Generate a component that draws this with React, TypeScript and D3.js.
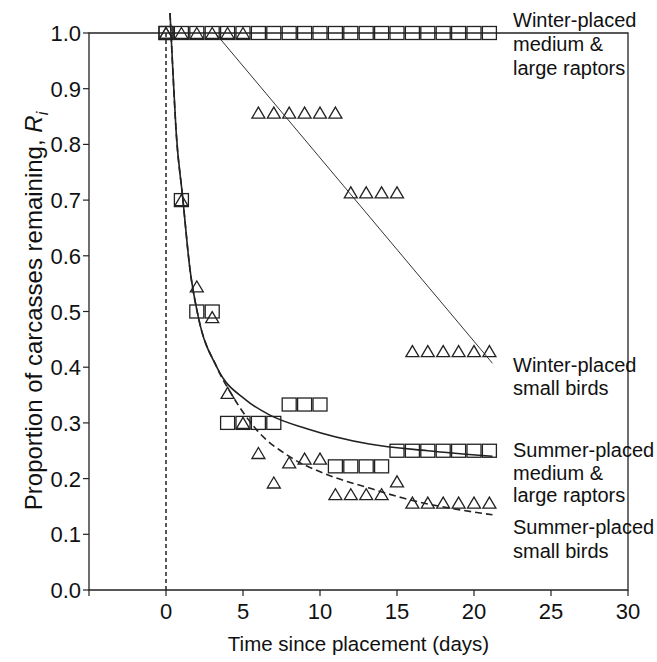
import React from "react";
import * as d3 from "d3";

const days = [0,1,2,3,4,5,6,7,8,9,10,11,12,13,14,15,16,17,18,19,20,21];
const winterLargeR = [1,1,1,1,1,1,1,1,1,1,1,1,1,1,1,1,1,1,1,1,1,1];
const winterSmallR = [1,1,1,1,1,1,0.857,0.857,0.857,0.857,0.857,0.857,0.714,0.714,0.714,0.714,0.429,0.429,0.429,0.429,0.429,0.429];
const summerLargeR = [1,0.70,0.50,0.50,0.30,0.30,0.30,0.30,0.333,0.333,0.333,0.222,0.222,0.222,0.222,0.25,0.25,0.25,0.25,0.25,0.25,0.25];
const summerSmallR = [1,0.70,0.545,0.49,0.354,0.30,0.246,0.193,0.229,0.236,0.236,0.172,0.172,0.172,0.172,0.195,0.157,0.157,0.157,0.157,0.157,0.157];

// fitted curves
const winterSmallFitT = [3.2, 21.2];
const winterSmallFitR = [1.0, 0.407];
const summerLargeFitT = [0.26,0.45,0.65,1.08,1.56,2.1,3.3,5.2,6.75,9.1,13.2,17,21.2];
const summerLargeFitR = [1.036,0.93,0.826,0.706,0.575,0.49,0.40,0.341,0.314,0.29,0.262,0.25,0.24];
const summerSmallFitT = [0.26,0.45,0.65,1.08,1.56,2.1,3.3,4.35,5.9,8.05,10.2,13.2,15.4,21.2];
const summerSmallFitR = [1.036,0.93,0.826,0.706,0.575,0.49,0.40,0.347,0.287,0.239,0.21,0.183,0.165,0.135];

const xTicks = [0,5,10,15,20,25,30];
const yTicks = [0,0.1,0.2,0.3,0.4,0.5,0.6,0.7,0.8,0.9,1.0];

const labels = [
  { lines: ["Winter-placed", "medium &", "large raptors"], y: 27, dy: 24 },
  { lines: ["Winter-placed", "small birds"], y: 372, dy: 23 },
  { lines: ["Summer-placed", "medium &", "large raptors"], y: 457, dy: 22.5 },
  { lines: ["Summer-placed", "small birds"], y: 534, dy: 24 },
];

const FONT = "'Liberation Sans', Arial, Helvetica, sans-serif";
const INK = "#222";

export default function App() {
  const x = d3.scaleLinear().domain([-5, 30]).range([89, 628]);
  const y = d3.scaleLinear().domain([0, 1]).range([590, 33]);

  const line = d3.line<[number, number]>().x(d => x(d[0])).y(d => y(d[1]));
  const curve = d3.line<[number, number]>().x(d => x(d[0])).y(d => y(d[1])).curve(d3.curveMonotoneX);

  const zip = (a: number[], b: number[]) => a.map((v, i) => [v, b[i]] as [number, number]);

  const sq = (t: number, r: number, k: string) => (
    <rect key={k} x={x(t) - 7} y={y(r) - 6.5} width={14} height={13} fill="none" stroke={INK} strokeWidth={1.3} />
  );
  const tri = (t: number, r: number, k: string) => {
    const cx = x(t), cy = y(r);
    return (
      <path key={k} d={`M${cx - 6.5},${cy + 5.5}L${cx + 6.5},${cy + 5.5}L${cx},${cy - 5.5}Z`} fill="none" stroke={INK} strokeWidth={1.3} />
    );
  };

  return (
    <svg width={657} height={662} style={{ position: "absolute", left: 0, top: 0, background: "#fff" }} fontFamily={FONT}>
      <rect x={0} y={0} width={657} height={662} fill="#fff" />
      {/* frame */}
      <path d={`M${x(-5)},${y(1)}H${x(30)}V${y(0)}H${x(-5)}Z`} fill="none" stroke={INK} strokeWidth={1.3} />
      {/* y ticks */}
      {yTicks.map(v => (
        <g key={"y" + v}>
          <line x1={x(-5) - 6} x2={x(-5)} y1={y(v)} y2={y(v)} stroke={INK} strokeWidth={1.2} />
          <text x={x(-5) - 8} y={y(v) + 8} textAnchor="end" fontSize={22} fill="#111">{v.toFixed(1)}</text>
        </g>
      ))}
      {/* x ticks */}
      {xTicks.map(v => (
        <g key={"x" + v}>
          <line x1={x(v)} x2={x(v)} y1={y(0)} y2={y(0) + 6} stroke={INK} strokeWidth={1.2} />
          <text x={x(v)} y={y(0) + 29} textAnchor="middle" fontSize={22} fill="#111">{v}</text>
        </g>
      ))}
      <line x1={x(-5)} x2={x(-5)} y1={y(0)} y2={y(0) + 6} stroke={INK} strokeWidth={1.2} />
      {/* axis titles */}
      <text x={x(12.5)} y={651} textAnchor="middle" fontSize={20.5} fill="#111">Time since placement (days)</text>
      <text transform={`translate(42,311) rotate(-90)`} textAnchor="middle" fontSize={24} fill="#111">
        Proportion of carcasses remaining, <tspan fontStyle="italic">R</tspan><tspan fontStyle="italic" fontSize={16} dy={6}>i</tspan>
      </text>
      {/* vertical dashed line at t = 0 */}
      <line x1={x(0)} x2={x(0)} y1={y(1)} y2={y(0)} stroke={INK} strokeWidth={1.5} strokeDasharray="4,3" />
      {/* fits */}
      <path d={line(zip(winterSmallFitT, winterSmallFitR)) || ""} fill="none" stroke="#333" strokeWidth={1} />
      <path d={curve(zip(summerLargeFitT, summerLargeFitR)) || ""} fill="none" stroke={INK} strokeWidth={1.6} />
      <path d={curve(zip(summerSmallFitT, summerSmallFitR)) || ""} fill="none" stroke={INK} strokeWidth={1.6} strokeDasharray="7,4" />
      {/* markers */}
      {days.map((t, i) => sq(t, winterLargeR[i], "wl" + i))}
      {days.map((t, i) => tri(t, winterSmallR[i], "ws" + i))}
      {days.map((t, i) => sq(t, summerLargeR[i], "sl" + i))}
      {days.map((t, i) => tri(t, summerSmallR[i], "ss" + i))}
      {/* series labels */}
      {labels.map((l, j) => (
        <text key={"l" + j} x={513} y={l.y} fontSize={20} fill="#111">
          {l.lines.map((s, i) => (
            <tspan key={i} x={513} y={l.y + i * l.dy}>{s}</tspan>
          ))}
        </text>
      ))}
    </svg>
  );
}
